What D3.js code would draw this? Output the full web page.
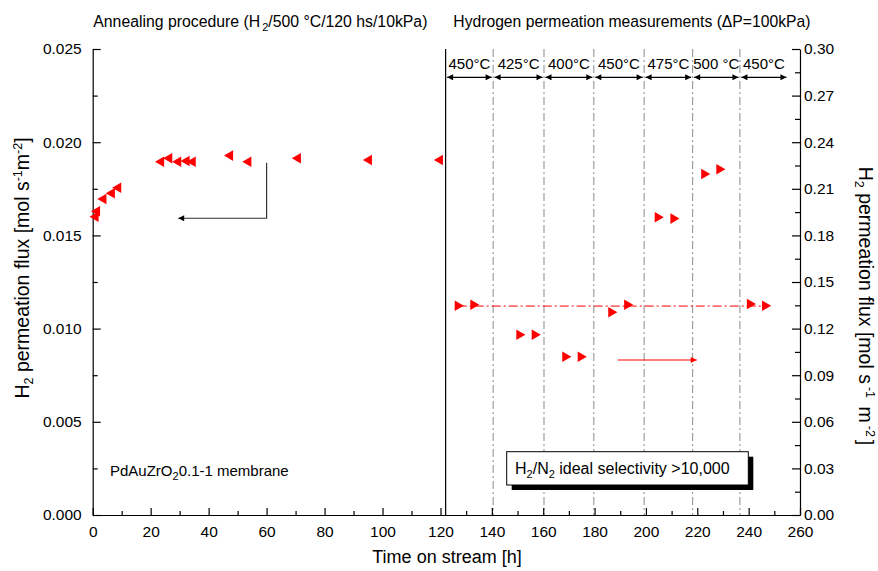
<!DOCTYPE html>
<html><head><meta charset="utf-8">
<script src="https://cdn.jsdelivr.net/npm/d3@7"></script>
<style>
body{margin:0;background:#fff}
text{font-family:"Liberation Sans",Arial,Helvetica,sans-serif;fill:#000}
</style>
</head><body>
<svg id="chart" width="878" height="571"></svg>
<script>
// ---------- data ----------
const xTickValues = [0,20,40,60,80,100,120,140,160,180,200,220,240,260];
const xMinorTicks = [10,30,50,70,90,110,130,150,170,190,210,230,250];
const leftTickValues = [0,0.005,0.010,0.015,0.020,0.025];
const leftMinorTicks = [0.0025,0.0075,0.0125,0.0175,0.0225];
const rightTickValues = [0,0.03,0.06,0.09,0.12,0.15,0.18,0.21,0.24,0.27,0.30];
const rightMinorTicks = [0.015,0.045,0.075,0.105,0.135,0.165,0.195,0.225,0.255,0.285];

// annealing (left axis)
const annealTime = [1.0,1.5,3.7,6.6,8.8,23.6,26.4,29.5,32.4,34.5,47.4,53.7,70.8,95.3,119.8];
const annealFlux = [0.0160,0.0163,0.01695,0.01726,0.01756,0.01895,0.01914,0.01895,0.01899,0.01895,0.01928,0.01895,0.01914,0.01904,0.01904];

// permeation (right axis)
const permTime = [126.7,132.8,150.7,156.7,168.6,174.6,186.5,192.7,204.6,210.7,222.7,228.6,240.5,246.4];
const permFlux = [0.1347,0.1354,0.1161,0.1161,0.1019,0.1019,0.1305,0.1354,0.1917,0.1908,0.2195,0.2226,0.1358,0.1347];

// temperature steps
const segEdges = [122,140.5,160.3,179.7,199.3,218.2,236.6,255.3];
const segLabels = ["450°C","425°C","400°C","450°C","475°C","500 °C","450°C"];
const dividerTime = 122;

// annotation lines (data units)
const refLine = {t0:126.7, t1:248.0, flux:0.1345};
const redArrow = {t0:189.0, t1:219.8, flux:0.0998};
const blackArrow = {t:60.0, fluxTop:0.0189, fluxBottom:0.01592, tEnd:29.5};

// ---------- scales ----------
const svg = d3.select("#chart");
const x = d3.scaleLinear().domain([0,120,260]).range([92.7,440.5,800]);
const yL = d3.scaleLinear().domain([0,0.025]).range([515,49]);
const yR = d3.scaleLinear().domain([0,0.30]).range([515,49]);

const defs = svg.append("defs");
function marker(id, color, w, h){
  defs.append("marker").attr("id",id).attr("viewBox","0 0 10 10")
    .attr("refX",10).attr("refY",5).attr("markerUnits","userSpaceOnUse")
    .attr("markerWidth",w).attr("markerHeight",h).attr("orient","auto-start-reverse")
    .append("path").attr("d","M0,0L10,5L0,10Z").attr("fill",color);
}
marker("headK","#000",8,6);
marker("headK2","#000",9,6);
marker("headR","#ff0000",9,6);

// ---------- temperature grid lines ----------
svg.append("g").selectAll("line").data(segEdges.slice(1,-1)).join("line")
  .attr("x1",d=>x(d)).attr("x2",d=>x(d)).attr("y1",yL(0.025)).attr("y2",yL(0))
  .attr("stroke","#8a8a8a").attr("stroke-width",1).attr("stroke-dasharray","8,3,2,3");

// divider
svg.append("line").attr("x1",x(dividerTime)).attr("x2",x(dividerTime))
  .attr("y1",yL(0.025)).attr("y2",yL(0)).attr("stroke","#000").attr("stroke-width",1.2);

// temperature arrows & labels
const segs = segLabels.map((l,i)=>({label:l,a:segEdges[i],b:segEdges[i+1]}));
svg.append("g").selectAll("line").data(segs).join("line")
  .attr("x1",d=>x(d.a)+1.5).attr("x2",d=>x(d.b)-1.5).attr("y1",77.3).attr("y2",77.3)
  .attr("stroke","#000").attr("stroke-width",1.3)
  .attr("marker-start","url(#headK)").attr("marker-end","url(#headK)");
svg.append("g").selectAll("text").data(segs).join("text")
  .attr("x",d=>(x(d.a)+x(d.b))/2).attr("y",68.5).attr("text-anchor","middle")
  .attr("font-size",15).text(d=>d.label);

// ---------- axes ----------
svg.append("g").attr("transform",`translate(0,${yL(0)})`)
  .call(d3.axisBottom(x).tickValues(xTickValues).tickSizeInner(-7).tickSizeOuter(0).tickPadding(11).tickFormat(d3.format("d")));
svg.append("g").attr("transform",`translate(0,${yL(0)})`)
  .call(d3.axisBottom(x).tickValues(xMinorTicks).tickSizeInner(-4).tickSizeOuter(0).tickFormat(""))
  .select(".domain").remove();

svg.append("g").attr("transform",`translate(${x(0)},0)`)
  .call(d3.axisLeft(yL).tickValues(leftTickValues).tickSizeInner(-8).tickSizeOuter(0).tickPadding(11).tickFormat(d3.format(".3f")));
svg.append("g").attr("transform",`translate(${x(0)},0)`)
  .call(d3.axisLeft(yL).tickValues(leftMinorTicks).tickSizeInner(-5).tickSizeOuter(0).tickFormat(""))
  .select(".domain").remove();

svg.append("g").attr("transform",`translate(${x(260)},0)`)
  .call(d3.axisRight(yR).tickValues(rightTickValues).tickSizeInner(-8).tickSizeOuter(0).tickPadding(4).tickFormat(d3.format(".2f")));
svg.append("g").attr("transform",`translate(${x(260)},0)`)
  .call(d3.axisRight(yR).tickValues(rightMinorTicks).tickSizeInner(-5).tickSizeOuter(0).tickFormat(""))
  .select(".domain").remove();

svg.selectAll(".tick text").attr("font-size",15.5).attr("font-family","'Liberation Sans',Arial,sans-serif");
svg.selectAll(".domain, .tick line").attr("stroke","#000").attr("stroke-width",1.2);

// ---------- reference line & arrows ----------
svg.append("line").attr("x1",x(refLine.t0)).attr("x2",x(refLine.t1))
  .attr("y1",yR(refLine.flux)).attr("y2",yR(refLine.flux))
  .attr("stroke","#ff0000").attr("stroke-width",1).attr("stroke-dasharray","9,3,2,3");

svg.append("line").attr("x1",x(redArrow.t0)).attr("x2",x(redArrow.t1))
  .attr("y1",yR(redArrow.flux)).attr("y2",yR(redArrow.flux))
  .attr("stroke","#ff0000").attr("stroke-width",1.2).attr("marker-end","url(#headR)");

svg.append("path")
  .attr("d",`M${x(blackArrow.t)},${yL(blackArrow.fluxTop)}V${yL(blackArrow.fluxBottom)}H${x(blackArrow.tEnd)}`)
  .attr("fill","none").attr("stroke","#333").attr("stroke-width",1.2).attr("marker-end","url(#headK2)");

// ---------- markers ----------
const tri = d3.symbol().type(d3.symbolTriangle).size(48);
svg.append("g").selectAll("path").data(annealTime.map((t,i)=>({t,v:annealFlux[i]}))).join("path")
  .attr("d",tri).attr("fill","#ff0000")
  .attr("transform",d=>`translate(${x(d.t)},${yL(d.v)}) rotate(-90)`);
svg.append("g").selectAll("path").data(permTime.map((t,i)=>({t,v:permFlux[i]}))).join("path")
  .attr("d",tri).attr("fill","#ff0000")
  .attr("transform",d=>`translate(${x(d.t)},${yR(d.v)}) rotate(90)`);

// ---------- titles ----------
const t1 = svg.append("text").attr("x",93.3).attr("y",26.5).attr("font-size",15.8);
t1.append("tspan").text("Annealing procedure (H");
t1.append("tspan").attr("dx",2).attr("dy",4).attr("font-size",11).text("2");
t1.append("tspan").attr("dy",-4).text("/500 °C/120 hs/10kPa)");

svg.append("text").attr("x",453.3).attr("y",26.5).attr("font-size",15.7)
  .text("Hydrogen permeation measurements (ΔP=100kPa)");

svg.append("text").attr("x",447).attr("y",557).attr("text-anchor","middle")
  .attr("dominant-baseline","central").attr("font-size",18).text("Time on stream [h]");

function fluxTitle(g, sp, gap){
  g.append("tspan").text("H");
  g.append("tspan").attr("dy",4).attr("font-size",12.5).text("2");
  g.append("tspan").attr("dy",-4).text(" permeation flux [mol s");
  g.append("tspan").attr("dx",gap).attr("dy",-7).attr("font-size",12.5).text("-1");
  g.append("tspan").attr("dx",gap).attr("dy",7).text(sp+"m");
  g.append("tspan").attr("dx",gap).attr("dy",-7).attr("font-size",12.5).text("-2");
  g.append("tspan").attr("dx",gap).attr("dy",7).text("]");
}
const yt = svg.append("text").attr("transform","translate(29,268) rotate(-90)")
  .attr("text-anchor","middle").attr("font-size",19.5);
fluxTitle(yt,"",0);
const yt2 = svg.append("text").attr("transform","translate(859,306) rotate(90)")
  .attr("text-anchor","middle").attr("font-size",19.5);
fluxTitle(yt2," ",3);

// membrane label
const ml = svg.append("text").attr("x",110).attr("y",476).attr("font-size",15);
ml.append("tspan").text("PdAuZrO");
ml.append("tspan").attr("dy",4).attr("font-size",11).text("2");
ml.append("tspan").attr("dy",-4).text("0.1-1 membrane");

// selectivity box
svg.append("rect").attr("x",511.7).attr("y",456.7).attr("width",241.6).attr("height",33.3).attr("fill","#000");
svg.append("rect").attr("x",506.7).attr("y",451.7).attr("width",241.6).attr("height",33.3)
  .attr("fill","#fff").attr("stroke","#000").attr("stroke-width",1);
const sl = svg.append("text").attr("x",515).attr("y",474).attr("font-size",16);
sl.append("tspan").text("H");
sl.append("tspan").attr("dy",4).attr("font-size",11).text("2");
sl.append("tspan").attr("dy",-4).text("/N");
sl.append("tspan").attr("dy",4).attr("font-size",11).text("2");
sl.append("tspan").attr("dy",-4).text(" ideal selectivity >10,000");
</script>
</body></html>
